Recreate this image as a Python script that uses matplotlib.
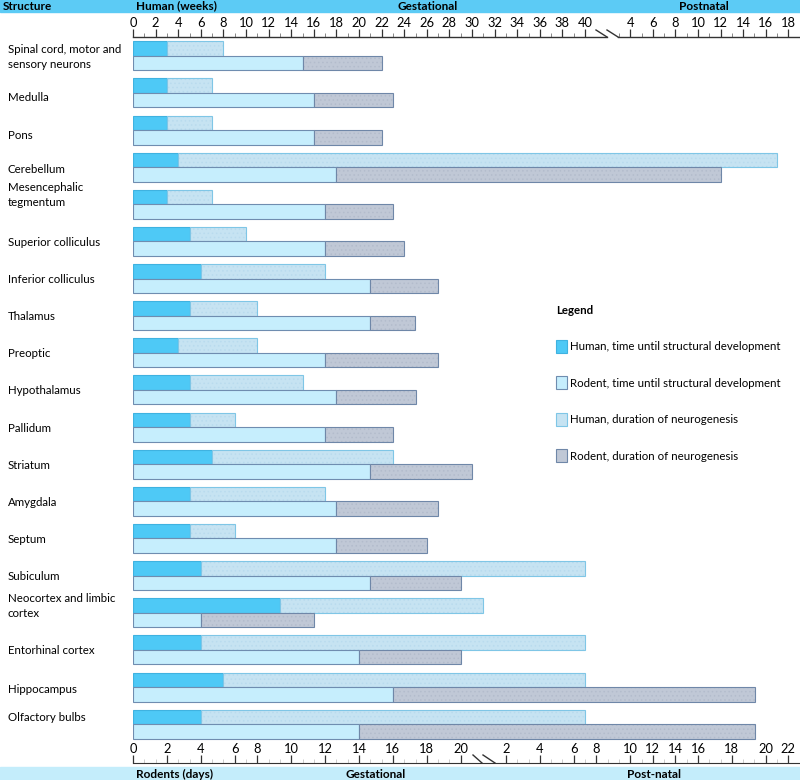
import matplotlib.pyplot as plt
from matplotlib.patches import Patch
from matplotlib.ticker import FixedLocator
from matplotlib.transforms import blended_transform_factory

plt.rcParams['font.family'] = ['Lato', 'DejaVu Sans']
plt.rcParams['hatch.linewidth'] = 0.6

structures = [
    "Spinal cord, motor and\nsensory neurons", "Medulla", "Pons", "Cerebellum",
    "Mesencephalic\ntegmentum", "Superior colliculus", "Inferior colliculus",
    "Thalamus", "Preoptic", "Hypothalamus", "Pallidum", "Striatum", "Amygdala",
    "Septum", "Subiculum", "Neocortex and limbic\ncortex", "Entorhinal cortex",
    "Hippocampus", "Olfactory bulbs",
]

# human: weeks after conception (postnatal week p is 40 + p)
human_start = [3, 3, 3, 4, 3, 5, 6, 5, 4, 5, 5, 7, 5, 5, 6, 13, 6, 8, 6]
human_end = [8, 7, 7, 57, 7, 10, 17, 11, 11, 15, 9, 23, 17, 9, 40, 31, 40, 40, 40]
# rodent (same units as the top axis)
rodent_start = [15, 16, 16, 18, 17, 17, 21, 21, 17, 18, 17, 21, 18, 18, 21, 6, 20, 23, 20]
rodent_end = [22, 23, 22, 52, 23, 24, 27, 25, 27, 25, 23, 30, 27, 26, 29, 16, 29, 55, 55]

human_gest_weeks = list(range(0, 41, 2))
human_post_weeks = list(range(4, 19, 2))

rodent_gest_days = [0, 2, 4, 6, 8, 10, 12, 14, 16, 18, 20]
rodent_gest_pos = [0, 3, 6, 9, 11, 14, 17, 20, 23, 26, 29]
rodent_post_days = [2, 4, 6, 8, 10, 12, 14, 16, 18, 20, 22]
rodent_post_pos = [33, 36, 39, 41, 44, 46, 48, 50, 53, 56, 58]

legend_labels = [
    "Human, time until structural development",
    "Rodent, time until structural development",
    "Human, duration of neurogenesis",
    "Rodent, duration of neurogenesis",
]

c_h1, e_h1 = "#4ec9f6", "#3fb2e0"
c_h2, e_h2, t_h2 = "#c6e3f2", "#7fc6e6", "#b9dbee"
c_r1, e_r1 = "#c6eefd", "#6f8db0"
c_r2, e_r2, t_r2 = "#c0c8d6", "#6f87a8", "#b3bccc"

W, H = 800, 780
PX = 11.3  # pixels per week
fig = plt.figure(figsize=(W / 100, H / 100), dpi=100)

def fx(px):
    return px / W

def fy(py):
    return 1 - py / H

ax = fig.add_axes([fx(133), fy(763), 1 - fx(133), (763 - 37) / H])
ax.set_xlim(0, (W - 133) / PX)
ax.set_ylim(763, 37)
for s in ax.spines.values():
    s.set_visible(False)
ax.tick_params(left=False, labelleft=False, bottom=False, labelbottom=False)

row0, pitch, bh = 41.3, 37.13, 14.5
tops = [row0 + i * pitch for i in range(len(structures))]
rtops = [t + bh for t in tops]
label_dy = [0, 4, 4, 1, -10, 0, 0, 0, 0, 0, 0, 0, 0, 0, 0, -8, 0, 1, -8]

h_len = [e - s for s, e in zip(human_start, human_end)]
r_len = [e - s for s, e in zip(rodent_start, rodent_end)]

# human rows
ax.barh(tops, human_start, height=bh, align='edge', color=c_h1, edgecolor=e_h1, lw=0.8)
ax.barh(tops, h_len, left=human_start, height=bh, align='edge', color=c_h2, lw=0)
ax.barh(tops, h_len, left=human_start, height=bh, align='edge', color='none',
        edgecolor=t_h2, hatch='....', lw=0)
ax.barh(tops, h_len, left=human_start, height=bh, align='edge', fill=False,
        edgecolor=e_h2, lw=0.8)
# rodent rows
ax.barh(rtops, rodent_start, height=bh, align='edge', color=c_r1, edgecolor=e_r1, lw=0.8)
ax.barh(rtops, r_len, left=rodent_start, height=bh, align='edge', color=c_r2, lw=0)
ax.barh(rtops, r_len, left=rodent_start, height=bh, align='edge', color='none',
        edgecolor=t_r2, hatch='....', lw=0)
ax.barh(rtops, r_len, left=rodent_start, height=bh, align='edge', fill=False,
        edgecolor=e_r2, lw=0.8)

# structure names
trans = blended_transform_factory(fig.transFigure, ax.transData)
for name, t, dy in zip(structures, tops, label_dy):
    ax.text(fx(8), t + bh + 1 + dy, name, transform=trans, ha='left', va='center',
            fontsize=8.3, linespacing=1.45, clip_on=False)

# top axis: human weeks
top_pos = human_gest_weeks + [40 + p for p in human_post_weeks]
top_lab = [str(v) for v in human_gest_weeks] + [str(v) for v in human_post_weeks]
ax.xaxis.set_ticks_position('top')
ax.set_xticks(top_pos, top_lab)
minor = [w for w in list(range(0, 41)) + list(range(43, 60)) if w not in top_pos]
ax.xaxis.set_minor_locator(FixedLocator(minor))
ax.tick_params(axis='x', which='major', top=True, labeltop=True, direction='out',
               length=5.5, width=0.9, pad=0, labelsize=9.3, color='#333333')
ax.tick_params(axis='x', which='minor', top=True, direction='out', length=3,
               width=0.7, color='#888888')
kw = dict(color='#333333', lw=1.0, clip_on=False)
ax.plot([0, (607 - 133) / PX], [37, 37], **kw)
ax.plot([(618 - 133) / PX, (W - 133) / PX], [37, 37], **kw)
ax.plot([(596 - 133) / PX, (607 - 133) / PX], [30, 37], **kw)
ax.plot([(607 - 133) / PX, (618 - 133) / PX], [30, 37], **kw)

# bottom axis: rodent days
axr = fig.add_axes([fx(133), fy(763), 1 - fx(133), 1e-6])
axr.set_xlim(ax.get_xlim())
axr.patch.set_visible(False)
for k, s in axr.spines.items():
    s.set_visible(k == 'top')
axr.spines['top'].set_color('#333333')
axr.set_yticks([])
axr.xaxis.set_ticks_position('top')
axr.set_xticks(rodent_gest_pos + rodent_post_pos,
               [str(v) for v in rodent_gest_days + rodent_post_days])
rminor = [w for w in range(0, 60) if w not in rodent_gest_pos + rodent_post_pos
          and not 29 < w < 33]
axr.xaxis.set_minor_locator(FixedLocator(rminor))
axr.tick_params(axis='x', which='major', direction='out', length=5.5, width=0.9,
                pad=0, labelsize=9.3, color='#333333')
axr.tick_params(axis='x', which='minor', direction='out', length=3, width=0.7,
                color='#cccccc')
ax.plot([(473 - 133) / PX, (482 - 133) / PX], [755, 763], **kw)
ax.plot([(483 - 133) / PX, (495 - 133) / PX], [755, 763], **kw)

# header / footer bands
fig.patches.append(plt.Rectangle((0, fy(12)), 1, 12 / H, transform=fig.transFigure,
                                 color='#5ccbf5', zorder=0))
fig.patches.append(plt.Rectangle((0, 0), 1, fy(767), transform=fig.transFigure,
                                 color='#c4edfb', zorder=0))
hb = dict(fontsize=8.5, fontweight='bold', va='center', ha='left')
fig.text(fx(3), fy(6), "Structure", **hb)
fig.text(fx(136), fy(6), "Human (weeks)", **hb)
fig.text(fx(397), fy(6), "Gestational", **hb)
fig.text(fx(679), fy(6), "Postnatal", **hb)
fig.text(fx(136), fy(774), "Rodents (days)", **hb)
fig.text(fx(345), fy(774), "Gestational", **hb)
fig.text(fx(627), fy(774), "Post-natal", **hb)

# legend
handles = [
    Patch(facecolor=c_h1, edgecolor=e_h1, lw=0.8),
    Patch(facecolor=c_r1, edgecolor=e_r1, lw=0.8),
    Patch(facecolor=c_h2, edgecolor=e_h2, lw=0.8),
    Patch(facecolor=c_r2, edgecolor=e_r2, lw=0.8),
]
leg = fig.legend(handles, legend_labels, loc='upper left',
                 bbox_to_anchor=(fx(556), fy(305)), frameon=False, fontsize=8.3,
                 title="Legend", alignment='left', handlelength=0.95,
                 handleheight=1.35, handletextpad=0.25, labelspacing=2.05,
                 borderaxespad=0, borderpad=0)
leg.get_title().set_fontweight('bold')
leg.get_title().set_fontsize(8.3)

fig.savefig("out.png", dpi=100)
